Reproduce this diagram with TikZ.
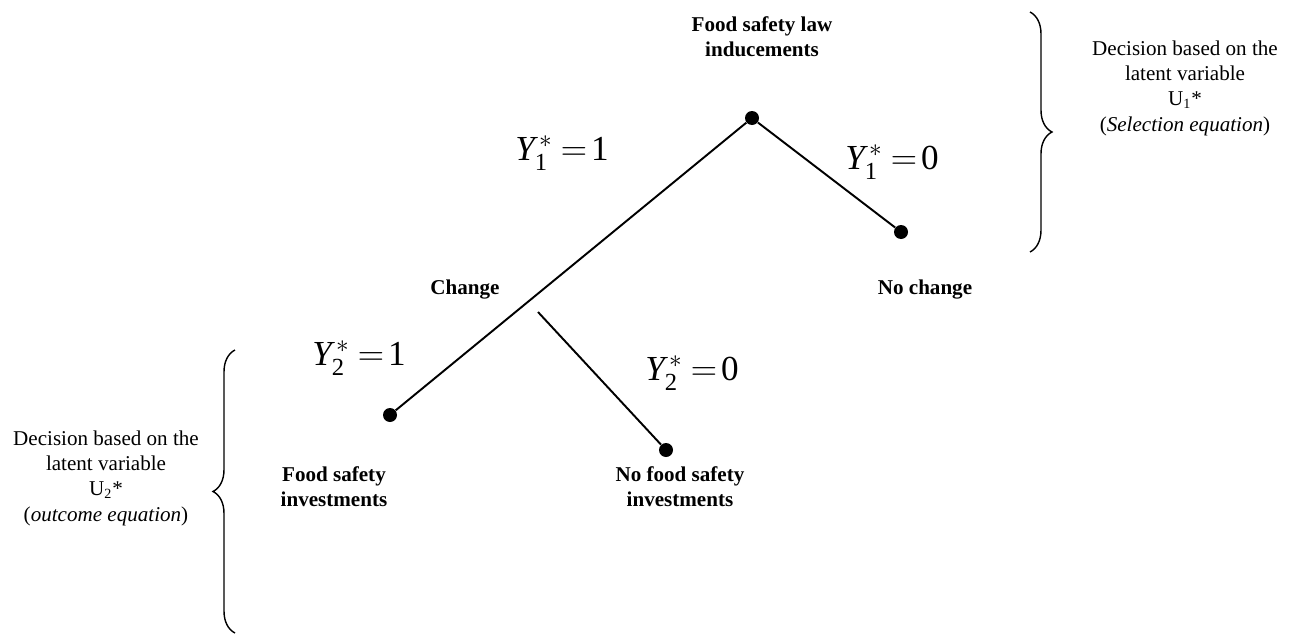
\documentclass[tikz,border=0pt]{standalone}
\usepackage{fontspec}
\setmainfont{Liberation Serif}
\usetikzlibrary{decorations.pathreplacing}
\newcommand{\yval}[2]{$\mathit{Y}_{\mathrm{#1}}^{\,\mathrm{*}}\mkern4mu\mathrm{=}\mkern2mu\mathrm{#2}$}
\begin{document}
\begin{tikzpicture}[
  x=0.02cm, y=-0.02cm,
  every node/.style={font=\fontsize{12}{14.4}\selectfont, align=center},
  dot/.style={circle, fill=black, inner sep=0pt, minimum size=0.28cm},
  branch/.style={line width=1.1pt},
  lbl/.style={font=\fontsize{12}{14.4}\selectfont\bfseries},
  eq/.style={font=\fontsize{20}{24}\selectfont},
  bracebar/.style={decorate, decoration={brace, amplitude=0.44cm}, line width=0.8pt}
  ]
  \useasboundingbox (0,0) rectangle (1296,636);
  % decision points
  \node[dot] (law) at (752,118) {};
  \node[dot] (nochg) at (901,232) {};
  \node[dot] (inv) at (390,415) {};
  \node[dot] (noinv) at (666,450) {};
  \coordinate (chg) at (538,312);
  \draw[branch] (law) -- (inv);
  \draw[branch] (law) -- (nochg);
  \draw[branch] (chg) -- (noinv);
  % outcome labels
  \node[lbl] (lawtxt) at (762,37) {Food safety law\\inducements};
  \node[lbl] (chgtxt) at (465,290) {Change};
  \node[lbl] (nochgtxt) at (925,290) {No change};
  \node[lbl] (invtxt) at (334,487) {Food safety\\investments};
  \node[lbl] (noinvtxt) at (680,487) {No food safety\\investments};
  % latent variable values
  \node[eq] (yonea) at (562,153) {\yval{1}{1}};
  \node[eq] (yoneb) at (892,162) {\yval{1}{0}};
  \node[eq] (ytwoa) at (359,358) {\yval{2}{1}};
  \node[eq] (ytwob) at (692,373) {\yval{2}{0}};
  % braces
  \draw[bracebar] (1030,12) -- (1030,252);
  \draw[bracebar] (235,633) -- (235,350);
  \node (seltxt) at (1185,88) {Decision based on the\\latent variable\\U\textsubscript{1}*\\(\textit{Selection equation})};
  \node (outtxt) at (106,478) {Decision based on the\\latent variable\\U\textsubscript{2}*\\(\textit{outcome equation})};
\end{tikzpicture}
\end{document}
